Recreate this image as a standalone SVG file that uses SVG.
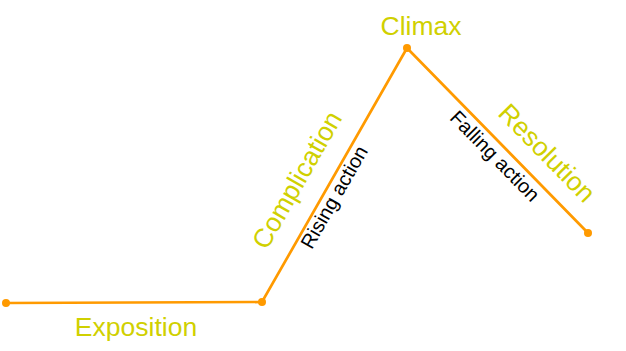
<svg xmlns="http://www.w3.org/2000/svg" width="626" height="351" viewBox="0 0 626 351">
<style>
.ln{fill:none;stroke:#ff9a00;stroke-width:2.7;stroke-linejoin:miter}
.dot{fill:#ff9a00}
.lbl{font-family:"Liberation Sans",Arial,sans-serif;fill:#d0d000;font-size:26.5px;text-anchor:middle}
.sub{font-family:"Liberation Sans",Arial,sans-serif;fill:#000;font-size:20px;text-anchor:middle}
</style>
<rect width="626" height="351" fill="#fff"/>
<g id="connectors">
<polyline class="ln" points="6,303 262,302 407,48 588,233"/>
</g>
<g id="exposition">
<circle class="dot" cx="6" cy="303" r="4"/>
<text class="lbl" x="136" y="336">Exposition</text>
</g>
<g id="complication">
<circle class="dot" cx="262" cy="302" r="4"/>
<text class="lbl" transform="translate(297,180) rotate(-60.3)" y="9">Complication</text>
<text class="sub" transform="translate(334,197) rotate(-60.3)" y="7">Rising action</text>
</g>
<g id="climax">
<circle class="dot" cx="407" cy="48" r="4"/>
<text class="lbl" x="421" y="35">Climax</text>
</g>
<g id="resolution">
<circle class="dot" cx="588" cy="233" r="4"/>
<text class="lbl" transform="translate(547,153) rotate(45.6)" y="9">Resolution</text>
<text class="sub" transform="translate(495,156) rotate(45.6)" y="7">Falling action</text>
</g>
</svg>
